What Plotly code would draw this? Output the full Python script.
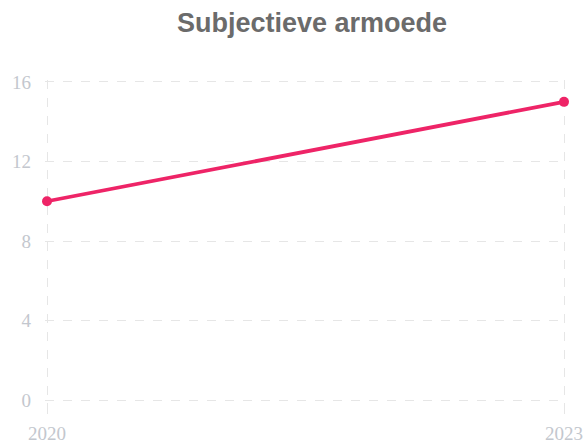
import plotly.graph_objects as go

years = [2020, 2023]
values = [10, 15]
y_ticks = [0, 4, 8, 12, 16]
title_text = "Subjectieve armoede"

fig = go.Figure()
fig.add_trace(go.Scatter(
    x=years, y=values, mode="lines+markers",
    line=dict(color="#ee2467", width=3.8),
    marker=dict(color="#ee2467", size=10),
    cliponaxis=False, showlegend=False,
))

tick_font = dict(family="Liberation Serif, DejaVu Serif, serif", size=19, color="#c3c7ce")
W, H = 583, 443
fig.update_layout(
    width=W, height=H,
    margin=dict(l=45, r=17, t=80, b=41, autoexpand=False),
    paper_bgcolor="white", plot_bgcolor="white",
    title=dict(text="<b>" + title_text + "</b>", x=312 / W, xanchor="center",
               y=1 - 23 / H, yanchor="middle",
               font=dict(family="Liberation Sans, Arial, sans-serif", size=27, color="#6b6b6b")),
    xaxis=dict(
        range=[2020 - 0.0116, 2023 + 0.0116], tickvals=years, ticktext=[str(y) for y in years],
        showgrid=True, gridcolor="#e6e6e6", griddash="dash", gridwidth=1,
        zeroline=False, showline=False, automargin=False,
        ticks="outside", ticklen=11, tickcolor="#e6e6e6",
        ticklabelstandoff=3, tickfont=tick_font, ticklabeloverflow="allow",
    ),
    yaxis=dict(
        range=[-0.1, 16.1], tickvals=y_ticks,
        showgrid=True, gridcolor="#e6e6e6", griddash="dash", gridwidth=1,
        zeroline=False, showline=False, ticks="", automargin=False,
        ticklabelstandoff=13, tickfont=tick_font,
    ),
)
fig.write_html(
    "out.html",
    config={"displayModeBar": False},
    post_script="document.body.style.margin='0';document.body.style.overflow='hidden';",
)
